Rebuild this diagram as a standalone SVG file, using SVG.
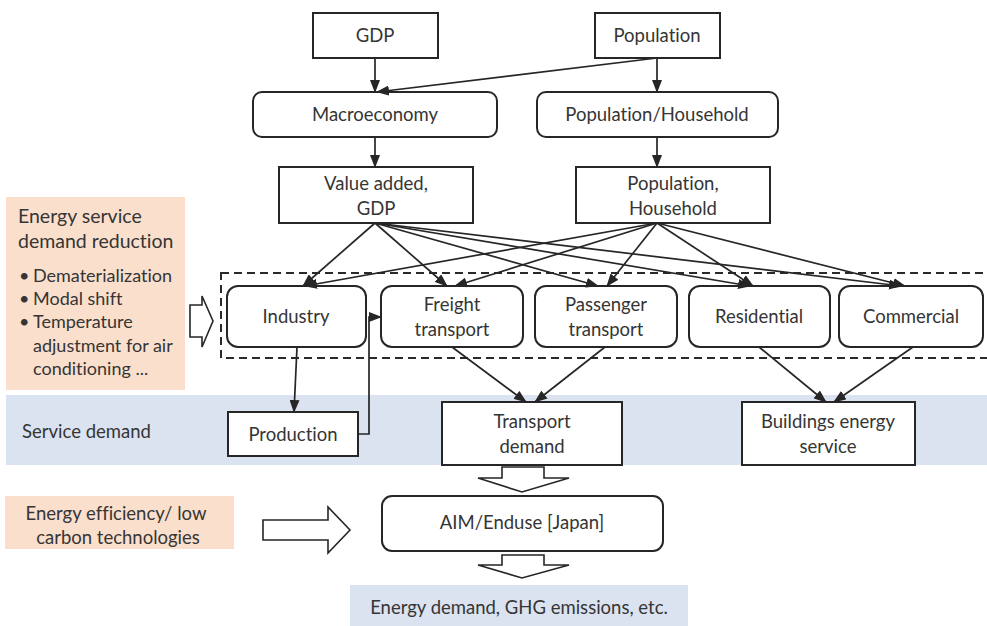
<svg xmlns="http://www.w3.org/2000/svg" width="987" height="626" viewBox="0 0 987 626">
  <style>
    text { font-family: Lato, "Liberation Sans", sans-serif; font-size: 18.5px; fill: #353535; font-variant-ligatures: none; }
    .c { text-anchor: middle; }
    .box { fill: #ffffff; stroke: #262626; stroke-width: 2; }
    .note { fill: #fbdfcd; }
    .band { fill: #dbe3f0; }
    .ln { fill: none; stroke: #262626; stroke-width: 1.7; }
    .hollow { fill: #ffffff; stroke: #262626; stroke-width: 1.6; stroke-linejoin: miter; }
    .dash { fill: none; stroke: #2a2a2a; stroke-width: 2; stroke-dasharray: 8 5; }
    .bl { font-size: 18px; }
  </style>
  <defs>
    <marker id="ah" markerUnits="userSpaceOnUse" markerWidth="13" markerHeight="10" refX="12" refY="5" orient="auto">
      <path d="M0,0 L13,5 L0,10 Z" fill="#262626"/>
    </marker>
  </defs>

  <rect width="987" height="626" fill="#ffffff"/>

  <!-- background bands and side notes -->
  <rect class="band" x="6" y="395" width="981" height="70"/>
  <text x="22" y="438">Service demand</text>
  <rect class="band" x="350" y="585" width="338" height="41"/>

  <g id="note-reduction">
    <rect class="note" x="6" y="197" width="179" height="193"/>
    <text x="18" y="223" style="font-size:19.5px">Energy service</text>
    <text x="18" y="248" style="font-size:19.5px">demand reduction</text>
    <text x="19" y="282" class="bl">•</text>
    <text x="33" y="282" class="bl">Dematerialization</text>
    <text x="19" y="305" class="bl">•</text>
    <text x="33" y="305" class="bl">Modal shift</text>
    <text x="19" y="328" class="bl">•</text>
    <text x="33" y="328" class="bl">Temperature</text>
    <text x="33" y="352" class="bl">adjustment for air</text>
    <text x="33" y="375" class="bl">conditioning ...</text>
  </g>

  <g id="note-efficiency">
    <rect class="note" x="5" y="496" width="229" height="53"/>
    <text class="c" x="116" y="520">Energy efficiency/ low</text>
    <text class="c" x="118" y="544">carbon technologies</text>
  </g>

  <!-- sector grouping -->
  <rect class="dash" x="221" y="273" width="770" height="85"/>

  <!-- nodes -->
  <g id="gdp">
    <rect class="box" x="313" y="13" width="125" height="45"/>
    <text class="c" x="375" y="42">GDP</text>
  </g>
  <g id="population">
    <rect class="box" x="595" y="13" width="125" height="45"/>
    <text class="c" x="657" y="42">Population</text>
  </g>
  <g id="macroeconomy">
    <rect class="box" x="253" y="92" width="244" height="45" rx="9"/>
    <text class="c" x="375" y="121">Macroeconomy</text>
  </g>
  <g id="population-household">
    <rect class="box" x="537" y="92" width="241" height="45" rx="9"/>
    <text class="c" x="657" y="121">Population/Household</text>
  </g>
  <g id="value-added">
    <rect class="box" x="279" y="167" width="194" height="56"/>
    <text class="c" x="376" y="190">Value added,</text>
    <text class="c" x="376" y="215">GDP</text>
  </g>
  <g id="population-household-2">
    <rect class="box" x="576" y="167" width="194" height="56"/>
    <text class="c" x="673" y="190">Population,</text>
    <text class="c" x="673" y="215">Household</text>
  </g>

  <g id="industry">
    <rect class="box" x="227" y="286" width="139" height="61" rx="11"/>
    <text class="c" x="296" y="323">Industry</text>
  </g>
  <g id="freight">
    <rect class="box" x="381" y="286" width="142" height="61" rx="11"/>
    <text class="c" x="452" y="311">Freight</text>
    <text class="c" x="452" y="336">transport</text>
  </g>
  <g id="passenger">
    <rect class="box" x="535" y="286" width="142" height="61" rx="11"/>
    <text class="c" x="606" y="311">Passenger</text>
    <text class="c" x="606" y="336">transport</text>
  </g>
  <g id="residential">
    <rect class="box" x="689" y="286" width="141" height="61" rx="11"/>
    <text class="c" x="759" y="323">Residential</text>
  </g>
  <g id="commercial">
    <rect class="box" x="839" y="286" width="144" height="61" rx="11"/>
    <text class="c" x="911" y="323">Commercial</text>
  </g>

  <g id="production">
    <rect class="box" x="228" y="412" width="130" height="44"/>
    <text class="c" x="293" y="441">Production</text>
  </g>
  <g id="transport-demand">
    <rect class="box" x="442" y="402" width="180" height="63"/>
    <text class="c" x="532" y="428">Transport</text>
    <text class="c" x="532" y="453">demand</text>
  </g>
  <g id="buildings">
    <rect class="box" x="742" y="402" width="173" height="63"/>
    <text class="c" x="828" y="428">Buildings energy</text>
    <text class="c" x="828" y="453">service</text>
  </g>
  <g id="aim-enduse">
    <rect class="box" x="382" y="496" width="281" height="55" rx="10"/>
    <text class="c" x="522" y="529">AIM/Enduse [Japan]</text>
  </g>
  <g id="outputs">
    <text class="c" x="519" y="614">Energy demand, GHG emissions, etc.</text>
  </g>

  <!-- connectors -->
  <g id="connectors">
    <line class="ln" x1="375" y1="58" x2="375" y2="92" marker-end="url(#ah)"/>
    <line class="ln" x1="657" y1="58" x2="377" y2="92" marker-end="url(#ah)"/>
    <line class="ln" x1="657" y1="58" x2="657" y2="92" marker-end="url(#ah)"/>
    <line class="ln" x1="375" y1="137" x2="375" y2="167" marker-end="url(#ah)"/>
    <line class="ln" x1="657" y1="137" x2="657" y2="167" marker-end="url(#ah)"/>

    <line class="ln" x1="375" y1="223" x2="303" y2="286" marker-end="url(#ah)"/>
    <line class="ln" x1="375" y1="223" x2="447" y2="286" marker-end="url(#ah)"/>
    <line class="ln" x1="375" y1="223" x2="598" y2="286" marker-end="url(#ah)"/>
    <line class="ln" x1="375" y1="223" x2="750" y2="286" marker-end="url(#ah)"/>
    <line class="ln" x1="375" y1="223" x2="901" y2="286" marker-end="url(#ah)"/>

    <line class="ln" x1="657" y1="223" x2="305" y2="286" marker-end="url(#ah)"/>
    <line class="ln" x1="657" y1="223" x2="455" y2="286" marker-end="url(#ah)"/>
    <line class="ln" x1="657" y1="223" x2="607" y2="286" marker-end="url(#ah)"/>
    <line class="ln" x1="657" y1="223" x2="753" y2="286" marker-end="url(#ah)"/>
    <line class="ln" x1="657" y1="223" x2="905" y2="286" marker-end="url(#ah)"/>

    <line class="ln" x1="297" y1="347" x2="294" y2="412" marker-end="url(#ah)"/>
    <polyline class="ln" points="358,434 369,434 369,317 381,317" marker-end="url(#ah)"/>

    <line class="ln" x1="452" y1="347" x2="526" y2="402" marker-end="url(#ah)"/>
    <line class="ln" x1="605" y1="347" x2="535" y2="402" marker-end="url(#ah)"/>
    <line class="ln" x1="759" y1="347" x2="826" y2="402" marker-end="url(#ah)"/>
    <line class="ln" x1="913" y1="347" x2="834" y2="402" marker-end="url(#ah)"/>

    <!-- hollow block arrows -->
    <path class="hollow" d="M190,305 L202,305 L202,296 L213,321 L202,347 L202,337 L190,337 Z"/>
    <path class="hollow" d="M263,520 L328,520 L328,507 L350,530 L328,553 L328,540 L263,540 Z"/>
    <path class="hollow" d="M502,467 L544,467 L544,478 L569,478 L522,492 L478,478 L502,478 Z"/>
    <path class="hollow" d="M502,555 L544,555 L544,565 L569,565 L522,578 L478,565 L502,565 Z"/>
  </g>
</svg>
